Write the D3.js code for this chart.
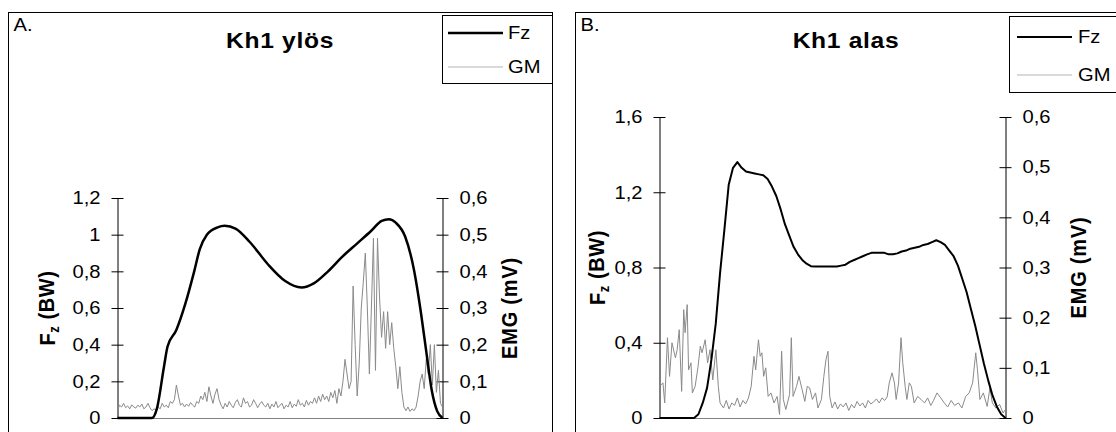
<!DOCTYPE html>
<html><head><meta charset="utf-8">
<script src="https://cdn.jsdelivr.net/npm/d3@7"></script>
<style>
body{margin:0;background:#fff}
svg{display:block}
text{font-family:"Liberation Sans",Arial,sans-serif;fill:#000}
</style>
</head><body>
<svg id="c" width="1116" height="432"></svg>
<script>
// ---------- DATA ----------
const seriesNames = ["Fz", "GM"];
const panelLabels = ["A.", "B."];
const panelTitles = ["Kh1 ylös", "Kh1 alas"];
const leftTicksA = [0, 0.2, 0.4, 0.6, 0.8, 1, 1.2];
const leftTicksB = [0, 0.4, 0.8, 1.2, 1.6];
const rightTicks = [0, 0.1, 0.2, 0.3, 0.4, 0.5, 0.6];

// Panel A – Fz (BW), time in % of contact
const fzA_t = [0,10.6,12.1,14.3,15.4,18.1,20.9,23.6,25.3,27.5,30.8,33.0,36.3,40.7,46.2,51.6,56.6,60.4,64.8,69.2,73.6,78.0,81.3,83.5,85.7,88.5,91.2,93.4,95.1,96.7,98.4,100];
const fzA_v = [0,0,0.05,0.28,0.39,0.48,0.625,0.80,0.92,1.0,1.04,1.048,1.033,0.96,0.84,0.747,0.712,0.734,0.80,0.88,0.95,1.02,1.075,1.084,1.064,0.99,0.81,0.57,0.35,0.15,0.036,0];

// Panel A – GM EMG (mV), equally spaced samples
const gmA = [
0.02,0.035,0.03,0.04,0.028,0.033,0.025,0.036,0.03,0.027,0.035,0.03,0.038,0.025,0.03,0.04,0.028,
0.02,0.025,0.022,
0.03,0.025,0.04,0.03,0.035,0.028,0.045,0.04,
0.05,0.09,0.06,
0.035,0.04,0.03,0.038,0.032,0.042,0.035,0.03,0.045,0.04,
0.06,0.05,0.07,0.045,0.085,0.06,0.04,0.065,0.08,0.05,
0.035,0.025,0.04,0.03,0.045,0.035,0.028,0.042,0.05,0.035,
0.03,0.055,0.04,0.045,0.03,0.035,0.05,0.04,0.028,0.038,
0.045,0.035,0.03,0.04,0.025,0.038,0.03,0.045,0.028,0.035,
0.04,0.025,0.035,0.03,0.045,0.028,0.038,0.032,0.05,0.035,
0.04,0.03,0.048,0.035,0.045,0.04,0.055,0.04,0.06,0.045,
0.065,0.05,0.06,0.045,0.07,0.055,0.075,0.04,0.08,0.06,
0.1,0.16,0.12,0.08,
0.1,0.36,0.2,
0.06,0.15,0.3,0.37,0.45,0.3,0.12,0.3,0.49,0.13,0.49,0.33,0.22,0.29,0.19,0.29,0.2,0.26,0.19,0.14,0.08,0.14,0.07,
0.03,0.02,0.03,0.018,0.025,0.02,0.03,
0.06,0.1,0.12,0.08,0.16,0.12,0.2,0.09,0.2,0.07,0.13,0.04,0.03
];

// Panel B – Fz (BW), samples every 1.25 %
const fzB = [
0,0,0,0,0,0,0,0,0,0.02,0.08,0.16,0.31,0.5,0.77,1.0,1.24,1.33,1.36,1.33,
1.31,1.305,1.3,1.295,1.29,1.27,1.23,1.18,1.11,1.03,0.97,0.91,0.87,0.84,0.82,0.807,
0.805,0.805,0.805,0.805,0.805,0.805,0.81,0.815,0.83,0.84,0.85,0.86,0.87,0.878,
0.878,0.878,0.878,0.87,0.87,0.875,0.885,0.89,0.9,0.905,0.91,0.92,0.925,0.935,0.945,
0.935,0.92,0.89,0.86,0.81,0.74,0.67,0.58,0.49,0.39,0.29,0.2,0.12,0.06,0.02,0
];

// Panel B – GM EMG (mV)
const gmB_t = [0,1.0,1.5,2.3,2.9,3.6,4.6,5.1,5.7,6.4,7.0,7.4,8.0,8.4,9.1,9.5,10.3,11.1,11.8,12.3,13.2,13.9,14.6,15.4,16.3,17.0,17.5,
18.5,19.3,20.1,20.9,21.7,22.5,23.3,24.1,24.9,25.7,
26.5,27.3,27.8,28.6,29.1,29.6,30.1,30.7,31.4,32.2,33.1,34.0,34.7,35.3,35.8,36.5,37.6,38.1,38.6,39.6,40.3,41.2,42.0,42.7,43.4,44.2,45.1,45.8,46.8,47.5,48.1,48.7,49.2,
49.9,50.7,51.5,52.3,53.1,53.9,54.7,55.5,56.3,57.1,57.9,58.7,59.5,60.3,61.1,61.9,62.7,63.5,64.3,65.1,65.8,
66.4,67.2,67.9,68.4,69.1,69.8,70.3,71.0,71.5,72.2,72.8,73.6,74.6,75.6,76.6,77.5,78.4,79.2,80.2,81.3,
82.3,83.3,84.3,85.3,86.4,87.4,88.5,89.5,90.5,91.4,91.9,92.6,93.6,94.7,95.5,96.2,97.2,98.3,99.3,100];
const gmB_v = [0.063,0.07,0.03,0.16,0.083,0.15,0.12,0.136,0.176,0.053,0.216,0.17,0.226,0.096,0.11,0.05,0.063,0.1,0.143,0.13,0.156,0.11,0.136,0.076,0.136,0.063,0.03,
0.02,0.035,0.018,0.03,0.025,0.04,0.022,0.035,0.028,0.04,
0.063,0.123,0.096,0.156,0.123,0.13,0.083,0.1,0.043,0.05,0.03,0.043,0.007,0.133,0.037,0.017,0.047,0.16,0.043,0.063,0.083,0.057,0.033,0.063,0.06,0.037,0.05,0.02,0.037,0.083,0.116,0.133,0.043,
0.02,0.032,0.018,0.028,0.022,0.03,0.015,0.027,0.02,0.033,0.024,0.03,0.02,0.035,0.028,0.032,0.038,0.03,0.04,0.035,0.042,
0.07,0.09,0.07,0.037,0.07,0.16,0.11,0.063,0.037,0.07,0.063,0.03,0.043,0.037,0.03,0.04,0.025,0.035,0.05,0.04,
0.03,0.022,0.035,0.025,0.03,0.02,0.043,0.05,0.07,0.13,0.096,0.037,0.05,0.023,0.06,0.03,0.02,0.027,0.01,0.017];

// ---------- DRAWING ----------
const svg = d3.select("#c");
const SX = 1.12;          // slight horizontal stretch of the original's lettering
const Y0 = 418;
const fmt = d => String(d).replace(".", ",");

function stretchText(sel) {
  sel.each(function () {
    const t = d3.select(this);
    const x = +t.attr("x") || 0, y = +t.attr("y") || 0;
    t.attr("x", 0).attr("y", 0).attr("transform", `translate(${x},${y}) scale(${SX},1)`);
  });
}

function panel(cfg) {
  const g = svg.append("g");
  g.append("rect").attr("x", cfg.fx).attr("y", 12.5).attr("width", cfg.fw).attr("height", 440)
    .attr("fill", "none").attr("stroke", "#000").attr("stroke-width", 1);

  g.append("text").attr("x", cfg.fx + 5).attr("y", 31).attr("font-size", 18).text(cfg.label).call(stretchText);
  g.append("text").attr("x", cfg.titleX).attr("y", 48).attr("font-size", 22).attr("font-weight", "bold")
    .attr("text-anchor", "middle").attr("letter-spacing", 0.6).text(cfg.title).call(stretchText);

  const x = d3.scaleLinear().domain([0, 100]).range([cfg.x0, cfg.x1]);
  const yL = d3.scaleLinear().domain([0, cfg.yMax]).range([Y0, cfg.yTop]);
  const yR = d3.scaleLinear().domain([0, 0.6]).range([Y0, cfg.yTop]);

  // x axis baseline (no ticks)
  g.append("g").attr("transform", `translate(0,${Y0})`)
    .call(d3.axisBottom(x).tickValues([]).tickSizeOuter(0))
    .select(".domain").attr("stroke", "#808080");

  const axL = g.append("g").attr("transform", `translate(${cfg.x0},0)`)
    .call(d3.axisLeft(yL).tickValues(cfg.leftTicks).tickFormat(fmt).tickSize(6).tickSizeOuter(0).tickPadding(11));
  const axR = g.append("g").attr("transform", `translate(${cfg.x1},0)`)
    .call(d3.axisRight(yR).tickValues(rightTicks).tickFormat(fmt).tickSize(6).tickSizeOuter(0).tickPadding(11));
  axL.selectAll(".tick line").attr("x1", 6);
  axR.selectAll(".tick line").attr("x1", -6);
  [axL, axR].forEach(a => {
    a.selectAll("text").attr("font-size", 18).attr("font-family", "Liberation Sans, Arial, sans-serif").attr("fill", "#000").call(stretchText);
    a.selectAll("line,path").attr("stroke", "#000");
  });

  // axis titles
  const tl = g.append("text").attr("transform", `translate(${cfg.tlx},${(Y0 + cfg.yTop) / 2}) scale(${SX},1) rotate(-90)`)
    .attr("text-anchor", "middle").attr("dy", "0.35em").attr("font-size", 20).attr("font-weight", "bold").attr("letter-spacing", 0.6);
  tl.append("tspan").text("F");
  tl.append("tspan").attr("font-size", 13).attr("dy", "0.3em").text("z");
  tl.append("tspan").attr("dy", "-0.25em").text(" (BW)");
  g.append("text").attr("transform", `translate(${cfg.trx},${(Y0 + cfg.yTop) / 2}) scale(${SX},1) rotate(-90)`)
    .attr("text-anchor", "middle").attr("dy", "0.35em").attr("font-size", 20).attr("font-weight", "bold").attr("letter-spacing", 0.8)
    .text("EMG (mV)");

  // series
  g.append("path").datum(cfg.gm).attr("fill", "none").attr("stroke", "#8a8a8a").attr("stroke-width", 1)
    .attr("d", d3.line().x(d => x(d[0])).y(d => yR(d[1])));
  g.append("path").datum(cfg.fz).attr("fill", "none").attr("stroke", "#000").attr("stroke-width", cfg.fzW)
    .attr("stroke-linejoin", "round")
    .attr("d", d3.line().curve(cfg.curve).x(d => x(d[0])).y(d => yL(d[1])));

  // legend
  const L = cfg.legend;
  g.append("rect").attr("x", L.x).attr("y", L.y).attr("width", L.w).attr("height", L.h)
    .attr("fill", "#fff").attr("stroke", "#000").attr("stroke-width", 1);
  seriesNames.forEach((name, i) => {
    const yy = L.rows[i];
    g.append("line").attr("x1", L.lx0).attr("x2", L.lx1).attr("y1", yy).attr("y2", yy)
      .attr("stroke", i === 0 ? "#000" : "#b4b4b4").attr("stroke-width", i === 0 ? cfg.fzW : 1);
    g.append("text").attr("x", L.tx).attr("y", yy).attr("dy", "0.35em").attr("font-size", 18).text(name).call(stretchText);
  });
}

const xIdxA = d3.scaleLinear().domain([0, gmA.length - 1]).range([0, 100]);
const xIdxB = d3.scaleLinear().domain([0, fzB.length - 1]).range([0, 100]);

panel({
  fx: 8.5, fw: 544, label: panelLabels[0], title: panelTitles[0], titleX: 280,
  x0: 117.5, x1: 442.5, yTop: 198, yMax: 1.2, leftTicks: leftTicksA,
  tlx: 47, trx: 509, fzW: 2.5, curve: d3.curveMonotoneX,
  fz: fzA_t.map((t, i) => [t, fzA_v[i]]),
  gm: gmA.map((v, i) => [xIdxA(i), v]),
  legend: { x: 442.5, y: 15.5, w: 110, h: 68, rows: [33, 67], lx0: 448, lx1: 503, tx: 508 }
});
panel({
  fx: 575.5, fw: 600, label: panelLabels[1], title: panelTitles[1], titleX: 846,
  x0: 659.5, x1: 1005.5, yTop: 117, yMax: 1.6, leftTicks: leftTicksB,
  tlx: 597, trx: 1078, fzW: 2, curve: d3.curveLinear,
  fz: fzB.map((v, i) => [xIdxB(i), v]),
  gm: gmB_t.map((t, i) => [t, gmB_v[i]]),
  legend: { x: 1009.5, y: 16.5, w: 120, h: 76, rows: [37, 75], lx0: 1017, lx1: 1072, tx: 1078 }
});
</script>
</body></html>
